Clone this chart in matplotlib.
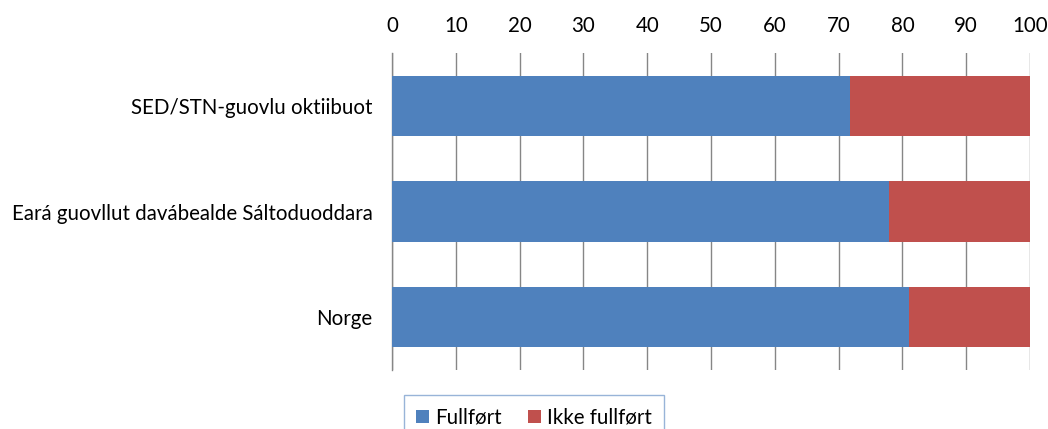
import matplotlib
matplotlib.use("Agg")
import matplotlib.pyplot as plt
import numpy as np

categories = ["SED/STN-guovlu oktiibuot", "Eará guovllut davábealde Sáltoduoddara", "Norge"]
fullfort = [71.8, 77.9, 81.0]
ikke_fullfort = [28.2, 22.1, 19.0]
series_names = ["Fullført", "Ikke fullført"]
xticks = list(range(0, 101, 10))

plt.rcParams['font.family'] = ['Lato', 'DejaVu Sans']
FS = 14.8

fig = plt.figure(figsize=(10.48, 4.29), dpi=100)
ax = fig.add_axes([392/1048, 1-370/429, (1030-392)/1048, (370-53)/429])

y = np.arange(len(categories))
h = 0.57
ax.barh(y, fullfort, height=h, color="#4F81BD", label=series_names[0], zorder=3)
ax.barh(y, ikke_fullfort, left=fullfort, height=h, color="#C0504D", label=series_names[1], zorder=3)

ax.set_ylim(len(categories)-0.5, -0.5)
ax.set_xlim(0, 100)
ax.set_xticks(xticks)
ax.xaxis.tick_top()
ax.set_yticks(y)
ax.set_yticklabels(categories)
ax.tick_params(axis='x', length=0, pad=12, labelsize=FS)
ax.tick_params(axis='y', length=0, pad=14, labelsize=FS)
ax.grid(axis='x', color="#868686", linewidth=1.0, zorder=0)
for s in ['top', 'right', 'bottom']:
    ax.spines[s].set_visible(False)
ax.spines['left'].set_color("#868686")
ax.spines['left'].set_linewidth(1.0)

leg = fig.legend(loc='upper left', bbox_to_anchor=(404/1048, 1-395/429), ncol=2,
                 frameon=True, fancybox=False, fontsize=FS, handlelength=0.6,
                 handleheight=0.6, handletextpad=0.3, columnspacing=1.3,
                 borderpad=0.6, borderaxespad=0)
leg.get_frame().set_edgecolor("#7FA1CF")
leg.get_frame().set_linewidth(1.0)

fig.savefig("out.png", dpi=100)
